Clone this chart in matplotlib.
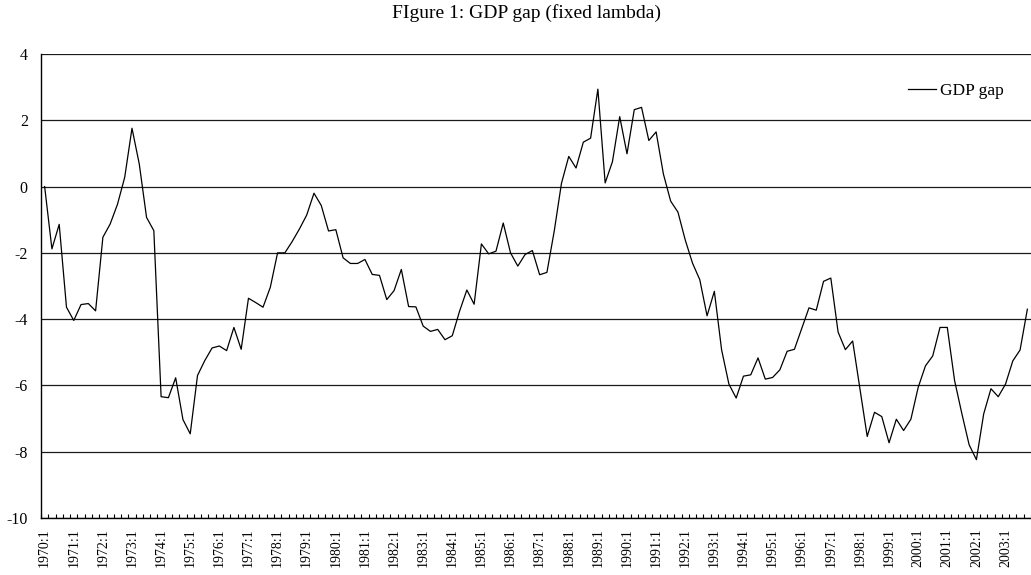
import matplotlib
matplotlib.use("Agg")
import matplotlib.pyplot as plt
import numpy as np

# Quarterly GDP gap, 1970:1 onward
gdp_gap = [
    0.00, -1.88, -1.14, -3.64,   # 1970
    -4.04, -3.56, -3.53, -3.75,  # 1971
    -1.53, -1.13, -0.54, 0.28,   # 1972
    1.76, 0.68, -0.93, -1.33,    # 1973
    -6.34, -6.37, -5.77, -7.03,  # 1974
    -7.46, -5.70, -5.25, -4.87,  # 1975
    -4.81, -4.95, -4.25, -4.91,  # 1976
    -3.37, -3.50, -3.64, -3.04,  # 1977
    -2.00, -2.00, -1.66, -1.28,  # 1978
    -0.86, -0.20, -0.57, -1.34,  # 1979
    -1.30, -2.15, -2.32, -2.32,  # 1980
    -2.20, -2.65, -2.68, -3.41,  # 1981
    -3.14, -2.50, -3.62, -3.63,  # 1982
    -4.21, -4.37, -4.31, -4.62,  # 1983
    -4.50, -3.76, -3.12, -3.55,  # 1984
    -1.73, -2.03, -1.95, -1.10,  # 1985
    -2.00, -2.40, -2.05, -1.93,  # 1986
    -2.66, -2.59, -1.35, 0.10,   # 1987
    0.91, 0.56, 1.34, 1.46,      # 1988
    2.94, 0.11, 0.75, 2.11,      # 1989
    0.99, 2.32, 2.39, 1.39,      # 1990
    1.65, 0.38, -0.44, -0.77,    # 1991
    -1.61, -2.31, -2.81, -3.90,  # 1992
    -3.16, -4.93, -5.96, -6.38,  # 1993
    -5.72, -5.68, -5.17, -5.81,  # 1994
    -5.76, -5.53, -4.97, -4.91,  # 1995
    -4.29, -3.66, -3.73, -2.86,  # 1996
    -2.76, -4.39, -4.92, -4.66,  # 1997
    -6.10, -7.54, -6.81, -6.94,  # 1998
    -7.73, -7.02, -7.36, -7.02,  # 1999
    -6.06, -5.41, -5.11, -4.25,  # 2000
    -4.25, -5.85, -6.85, -7.79,  # 2001
    -8.24, -6.86, -6.10, -6.34,  # 2002
    -5.96, -5.26, -4.93, -3.70,  # 2003
]
start_year = 1970
quarters = [f"{start_year + i // 4}:{i % 4 + 1}" for i in range(len(gdp_gap))]
year_labels = [q for q in quarters if q.endswith(":1")]
y_ticks = [-10, -8, -6, -4, -2, 0, 2, 4]

plt.rcParams['font.family'] = ['Liberation Serif', 'DejaVu Serif']

W, H = 1031, 575
fig = plt.figure(figsize=(W / 100, H / 100), dpi=100)
ax = fig.add_axes([41 / W, 1 - 518 / H, (W - 41) / W, (518 - 54) / H])

x = np.arange(len(gdp_gap))
ax.plot(x, gdp_gap, color='black', lw=0.9, label='GDP gap', zorder=3)

step = 7.32
ax.set_xlim(-0.5, (W - 41) / step - 0.5)
ax.set_ylim(-10, 4)
ax.set_yticks(y_ticks)
ax.set_yticklabels([str(v) for v in y_ticks], fontsize=11.5)
ax.tick_params(axis='y', length=0, pad=9.5)

major_pos = [i for i, q in enumerate(quarters) if q.endswith(":1")]
ax.set_xticks(major_pos)
ax.set_xticklabels(year_labels, rotation=90, fontsize=10, va='top')
ax.set_xticks(np.arange(len(gdp_gap) + 1) - 0.5, minor=True)
ax.tick_params(axis='x', which='major', length=0, pad=7.5)
ax.tick_params(axis='x', which='minor', direction='in', length=3, width=0.8, color='black')

ax.grid(axis='y', color='#1a1a1a', lw=0.9)
ax.set_axisbelow(True)
for s in ['top', 'right']:
    ax.spines[s].set_visible(False)
for s in ['left', 'bottom']:
    ax.spines[s].set_color('black')
    ax.spines[s].set_linewidth(1.0)

fig.text(527 / W, 1 - 13 / H, 'FIgure 1: GDP gap (fixed lambda)', ha='center', va='center', fontsize=14)

fig.legend(loc='center left', bbox_to_anchor=(908 / W, 1 - 91 / H), frameon=False,
           fontsize=12.5, handlelength=1.6, handletextpad=0.25, borderpad=0, borderaxespad=0)

fig.savefig('out.png', dpi=100)
